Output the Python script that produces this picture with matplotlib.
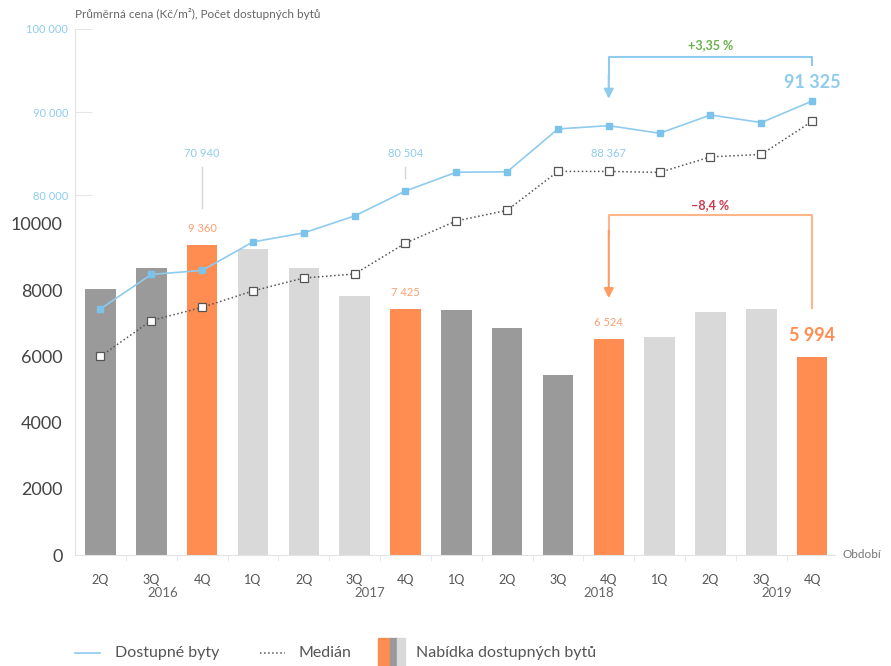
import matplotlib
matplotlib.use('Agg')
import matplotlib.pyplot as plt
from matplotlib.lines import Line2D
from matplotlib.patches import Rectangle
import matplotlib.transforms as mtrans

plt.rcParams['font.family'] = ['Lato', 'DejaVu Sans']

# data
quarters = ['2Q', '3Q', '4Q', '1Q', '2Q', '3Q', '4Q', '1Q', '2Q', '3Q', '4Q', '1Q', '2Q', '3Q', '4Q']
years = ['2016', '2017', '2018', '2019']
year_pos = [1.22, 5.3, 9.8, 13.3]
offer = [8050, 8680, 9360, 9230, 8680, 7830, 7425, 7390, 6870, 5450, 6524, 6590, 7330, 7420, 5994]
bar_kind = ['dark', 'dark', 'hl', 'light', 'light', 'light', 'hl',
            'dark', 'dark', 'dark', 'hl', 'light', 'light', 'light', 'hl']
price = [66310, 70460, 70940, 74370, 75460, 77500, 80504, 82760, 82810,
         87970, 88367, 87450, 89650, 88740, 91325]
median = [60590, 64910, 66500, 68470, 70030, 70510, 74230, 76900, 78180,
          82860, 82860, 82740, 84610, 84900, 88890]
price_labels = {2: '70 940', 6: '80 504', 10: '88 367'}
offer_labels = {2: '9 360', 6: '7 425', 10: '6 524'}

BLUE = '#8ecbef'
ORANGE = '#ff8c50'
colors = {'dark': '#9a9a9a', 'light': '#d9d9d9', 'hl': ORANGE}

fig = plt.figure(figsize=(8.91, 6.66), dpi=100)
ax = fig.add_axes([75/891, 111/666, 760/891, 526/666])
x = list(range(len(quarters)))

ax.bar(x, offer, width=0.6, color=[colors[k] for k in bar_kind], zorder=2)
ax.set_xlim(-0.5, 14.45)
ax.set_ylim(0, 15890)
ax.set_yticks(range(0, 10001, 2000))
ax.tick_params(axis='y', length=0, labelsize=13, labelcolor='#444', pad=9)
ax.set_xticks(x)
ax.set_xticklabels(quarters)
ax.tick_params(axis='x', length=0, labelsize=9, labelcolor='#555', pad=14)
ax.set_xticks([i + 0.5 for i in x[:-1]], minor=True)
ax.tick_params(axis='x', which='minor', length=4, color='#e6e6e6')
for s in ['top', 'right']:
    ax.spines[s].set_visible(False)
ax.spines['left'].set_color('#e3e3e3')
ax.spines['bottom'].set_color('#e3e3e3')

tr = mtrans.blended_transform_factory(ax.transData, ax.transAxes)
for yr, p in zip(years, year_pos):
    ax.text(p, -0.072, yr, transform=tr, ha='center', va='center', fontsize=9.5, color='#666')
ax.text(1.0105, 0.0, 'Období', transform=ax.transAxes, ha='left', va='center',
        fontsize=8.5, color='#777', clip_on=False)

for i, lab in offer_labels.items():
    ax.text(i, offer[i] + 330, lab, ha='center', va='bottom', fontsize=8, color='#f9a070')
ax.text(14, offer[14] + 390, '5 994', ha='center', va='bottom', fontsize=13,
        fontweight='bold', color=ORANGE)

# orange bracket
ax.plot([10, 10, 14, 14], [9700, 10270, 10270, 7460], color='#ffb48a', lw=1.5)
ax.annotate('', xy=(10, 7760), xytext=(10, 9800),
            arrowprops=dict(arrowstyle='-|>', mutation_scale=14, color='#ff9a60', lw=1.5,
                            shrinkA=0, shrinkB=0))
ax.text(12, 10574, '–8,4 %', ha='center', va='center', fontsize=9, fontweight='bold', color='#d0374e')

# price axis
ax2 = ax.twinx()
ax2.set_ylim(36690, 100000)
ax2.yaxis.set_ticks_position('left')
ax2.yaxis.set_label_position('left')
ax2.set_yticks([80000, 90000, 100000])
ax2.set_yticklabels(['80 000', '90 000', '100 000'])
ax2.tick_params(axis='y', direction='in', length=12, color='#e6e6e6', labelsize=8,
                labelcolor=BLUE, pad=5)
for s in ax2.spines.values():
    s.set_visible(False)

ax2.plot(x, price, color=BLUE, lw=1.2, marker='s', ms=5, mfc='#7cc3ec', mec='#7cc3ec', zorder=3)
ax2.plot(x, median, color='#555', lw=1.1, ls=':', marker='s', ms=5.5, mfc='white',
         mec='#555', mew=0.9, zorder=3)

for i, lab in price_labels.items():
    ax2.text(i, 85010, lab, ha='center', va='center', fontsize=8, color=BLUE)
ax2.plot([2, 2], [78420, 83450], color='#d5d5d5', lw=1)
ax2.plot([6, 6], [82010, 83450], color='#d5d5d5', lw=1)
ax2.text(14, 93526, '91 325', ha='center', va='center', fontsize=13, fontweight='bold', color=BLUE)

# blue bracket
ax2.plot([10, 10, 14, 14], [94000, 96640, 96640, 95700], color=BLUE, lw=1.5)
ax2.annotate('', xy=(10, 91600), xytext=(10, 94500),
             arrowprops=dict(arrowstyle='-|>', mutation_scale=14, color=BLUE, lw=1.5,
                             shrinkA=0, shrinkB=0))
ax2.text(12, 98080, '+3,35 %', ha='center', va='center', fontsize=9, fontweight='bold', color='#6ab04c')

fig.text(75/891, 1 - 14/666, 'Průměrná cena (Kč/m²), Počet dostupných bytů',
         ha='left', va='center', fontsize=8.5, color='#666')

# legend
ly = 1 - 653/666
fig.add_artist(Line2D([75/891, 100/891], [ly, ly], color=BLUE, lw=1.2))
fig.text(115/891, ly, 'Dostupné byty', ha='left', va='center', fontsize=11.5, color='#555')
fig.add_artist(Line2D([260/891, 285/891], [ly, ly], color='#555', lw=1.1, ls=':'))
fig.text(298/891, ly, 'Medián', ha='left', va='center', fontsize=11.5, color='#555')
for x0, w, c in [(378, 12, ORANGE), (390, 7, '#9a9a9a'), (397, 8, '#d9d9d9')]:
    fig.add_artist(Rectangle((x0/891, 0), w/891, 28/666, color=c, transform=fig.transFigure))
fig.text(416/891, ly, 'Nabídka dostupných bytů', ha='left', va='center', fontsize=11.5, color='#555')

fig.savefig('out.png', dpi=100)
